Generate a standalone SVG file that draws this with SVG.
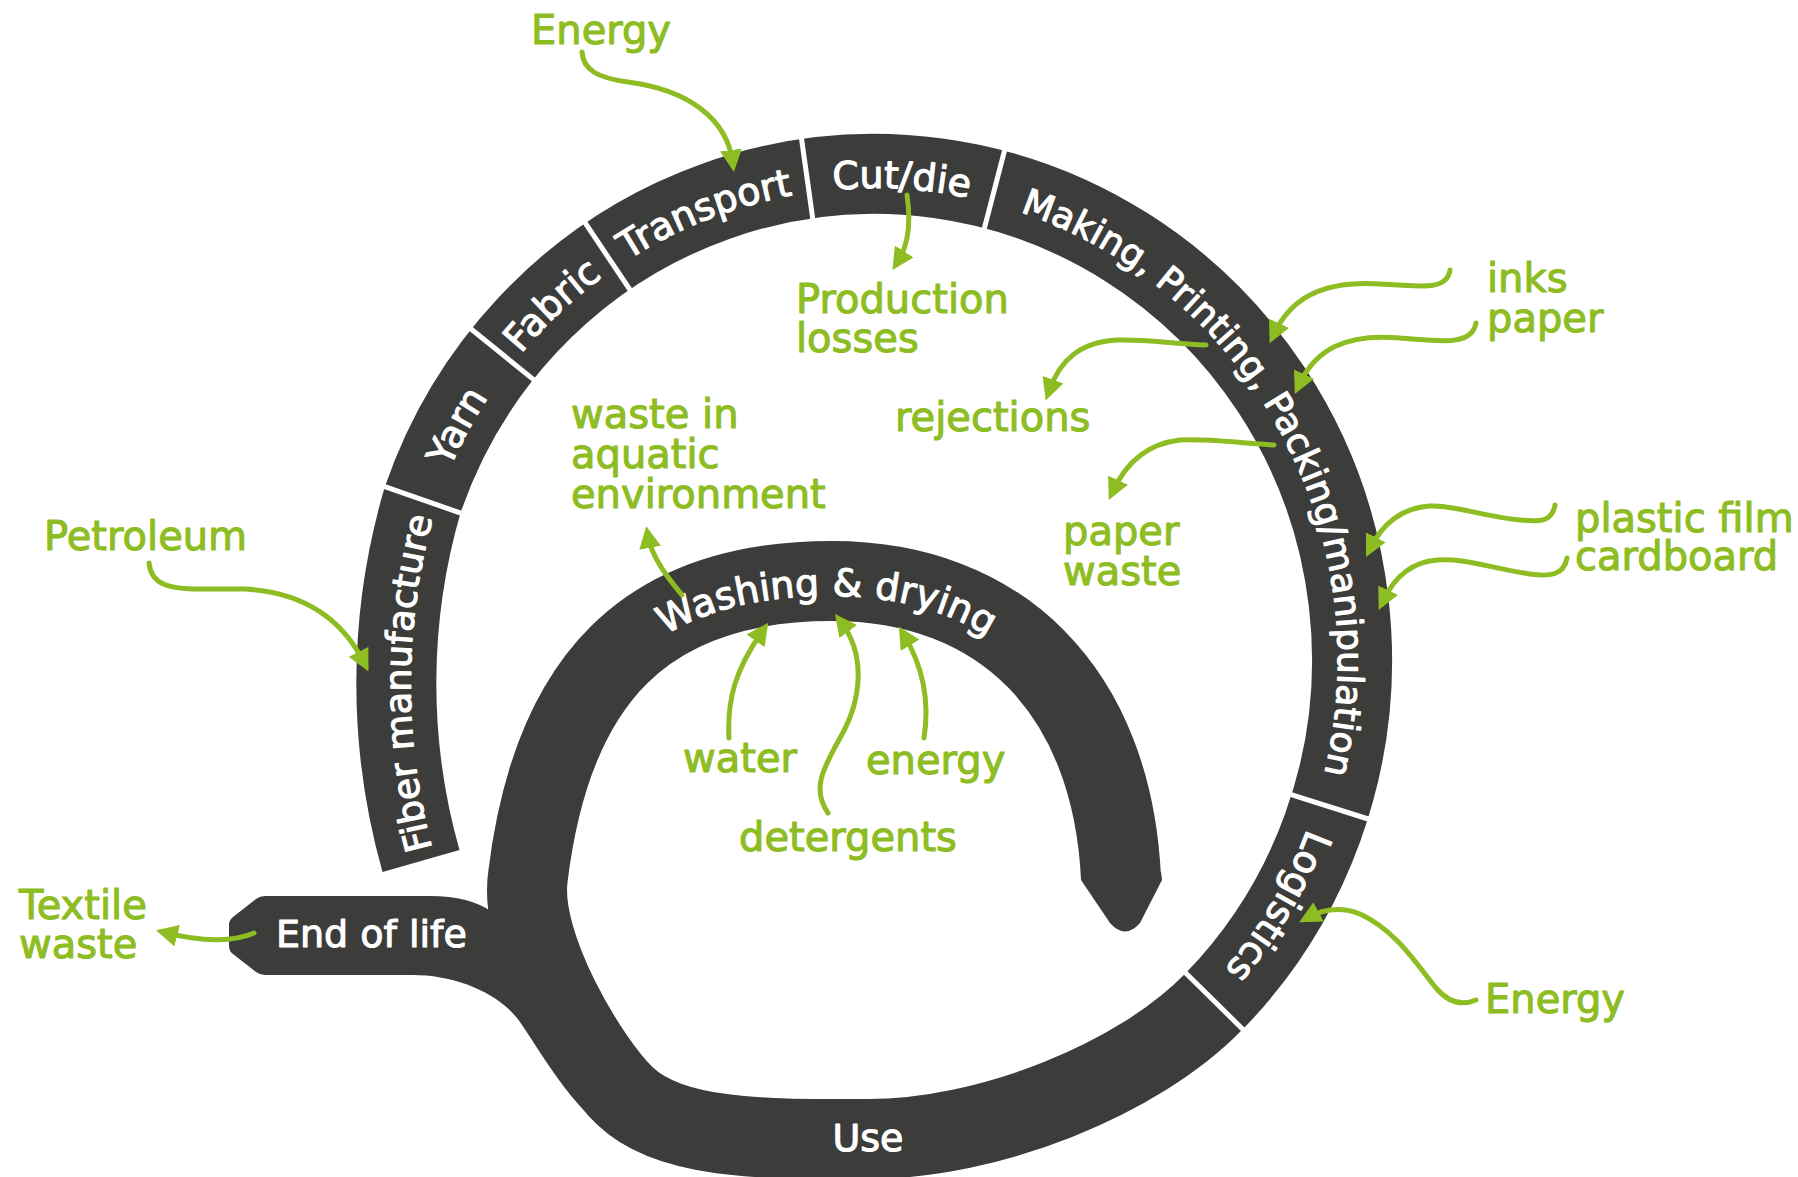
<svg xmlns="http://www.w3.org/2000/svg" width="1798" height="1177" viewBox="0 0 1798 1177">
<defs>
<style>
.band{fill:none;stroke:#3c3c3b;stroke-width:80;stroke-linecap:butt;stroke-linejoin:round}
.dark{fill:#3c3c3b}
.sep{stroke:#ffffff;stroke-width:5;stroke-linecap:butt}
.lbl{font-family:"DejaVu Sans","Liberation Sans",sans-serif;font-size:38px;fill:#ffffff;stroke:#ffffff;stroke-width:1.1px;stroke-linejoin:round}
.g{font-family:"DejaVu Sans","Liberation Sans",sans-serif;font-size:40px;fill:#8dbd23;stroke:#8dbd23;stroke-width:1.1px;stroke-linejoin:round}
.arr{fill:none;stroke:#8dbd23;stroke-width:5;stroke-linecap:round;marker-end:url(#ah)}
</style>
<marker id="ah" viewBox="0 0 22 22" refX="12" refY="11" markerWidth="22" markerHeight="22" markerUnits="userSpaceOnUse" orient="auto">
<path d="M0,0 L22,11 L0,22 Z" fill="#8dbd23"/>
</marker>
<path id="ringText" d="M874,1132 A464,472 0 1 1 874,188 A464,472 0 1 1 874,1132"/>
<path id="fiberText" d="M434,855 A638,638 0 0 1 436.5,504.6"/>
<path id="washText" d="M543,876 C567,685 650,596 832,596 C995,596 1097,695 1106,878"/>
</defs>

<g id="spiral">
<path class="band" d="M421,861 A652,652 0 0 1 422.7,499.8 A478,486 0 1 1 1214.3,1001.2 C1137.7,1080.2 988,1139 868,1139 C768,1139 671.8,1140.9 625,1096 C589,1061.5 518,945 528,876 C552,680 645,581 832,581 C1000,581 1112,690 1121,878"/>
<path class="dark" d="M1081,872 L1081,880 L1110,923 Q1125,940 1140,923 L1162,880 L1161,872 Z"/>
</g>

<g id="end-of-life">
<path class="dark" d="M265,896 L430,896 Q470,896 492,912 L528,905 L560,990 L607,1074 L580,1106 C556,1080 538,1048 520,1022 C500,993 455,975 413,975 L265,975 Q260,975 256,972 L233,954 Q229,951 229,946 L229,925 Q229,920 233,917 L256,899 Q260,896 265,896 Z"/>
<text class="lbl" x="276" y="947">End of life</text>
</g>

<g id="separators">
<line class="sep" x1="467.1" y1="515.3" x2="378.3" y2="484.3"/>
<line class="sep" x1="538.9" y1="383.9" x2="465.8" y2="324.8"/>
<line class="sep" x1="633.8" y1="295.5" x2="581.5" y2="217.4"/>
<line class="sep" x1="813.7" y1="225.3" x2="800.6" y2="132.2"/>
<line class="sep" x1="982.6" y1="235.1" x2="1006.2" y2="144.2"/>
<line class="sep" x1="1284.9" y1="792.6" x2="1374.5" y2="821"/>
<line class="sep" x1="1180.9" y1="968.2" x2="1247.8" y2="1034.2"/>
</g>

<g id="fiber-manufacture"><text class="lbl" style="font-size:36.5px"><textPath href="#fiberText" startOffset="49%" text-anchor="middle">Fiber manufacture</textPath></text></g>
<g id="yarn"><text class="lbl"><textPath href="#ringText" startOffset="972.8" text-anchor="middle">Yarn</textPath></text></g>
<g id="fabric"><text class="lbl"><textPath href="#ringText" startOffset="1123.6" text-anchor="middle">Fabric</textPath></text></g>
<g id="transport"><text class="lbl"><textPath href="#ringText" startOffset="1299.2" text-anchor="middle">Transport</textPath></text></g>
<g id="cut-die"><text class="lbl"><textPath href="#ringText" startOffset="1497.2" text-anchor="middle">Cut/die</textPath></text></g>
<g id="making"><text class="lbl" style="font-size:36px"><textPath href="#ringText" startOffset="1969.3" text-anchor="middle">Making, Printing, Packing/manipulation</textPath></text></g>
<g id="logistics"><text class="lbl"><textPath href="#ringText" startOffset="2459.4" text-anchor="middle">Logistics</textPath></text></g>
<g id="use"><text class="lbl" x="868" y="1151" text-anchor="middle">Use</text></g>
<g id="washing-drying"><text class="lbl"><textPath href="#washText" startOffset="50%" text-anchor="middle">Washing &amp; drying</textPath></text></g>

<g id="connectors">
<path class="arr" d="M582,52 C583,70 598,78 628,82 C690,90 727,120 732.6,162"/>
<path class="arr" d="M907,195 C911,222 909,244 897.8,261.6"/>
<path class="arr" d="M1450,270 C1447,290 1425,287 1380,284 C1320,280 1290,300 1273.9,334.2"/>
<path class="arr" d="M1476,323 C1472,345 1445,342 1400,338 C1345,333 1315,350 1299,385"/>
<path class="arr" d="M1206,345 C1170,344 1150,339 1117,340 C1080,342 1060,360 1049,391"/>
<path class="arr" d="M1274,445 C1235,443 1210,438 1180,440 C1145,444 1125,465 1113,491"/>
<path class="arr" d="M1555,505 C1552,522 1540,522 1520,520 C1480,516 1455,505 1430,506 C1400,508 1382,525 1370.5,548"/>
<path class="arr" d="M1567,558 C1564,575 1550,577 1530,574 C1490,568 1465,558 1437,560 C1410,562 1393,580 1383,601"/>
<path class="arr" d="M149,563 C151,585 170,589 200,589 L245,589 C300,592 340,615 364,662.5"/>
<path class="arr" d="M254,933 C236,941 205,943 165.6,932.7"/>
<path class="arr" d="M682,595 C668,578 652,558 648,536"/>
<path class="arr" d="M729,738 C727,700 735,670 762.5,631"/>
<path class="arr" d="M828,813 C812,790 822,770 840,738 C862,700 866,655 841,622"/>
<path class="arr" d="M924,738 C930,700 922,665 904,635"/>
<path class="arr" d="M1476,1000 C1462,1006 1448,1002 1436,988 C1415,962 1395,930 1360,914 C1340,906 1322,910 1308,917.5"/>
</g>

<g id="energy-top"><text class="g" x="531" y="44">Energy</text></g>
<g id="production-losses"><text class="g" x="796" y="313">Production</text><text class="g" x="796" y="352">losses</text></g>
<g id="inks-paper"><text class="g" x="1487" y="292">inks</text><text class="g" x="1487" y="332">paper</text></g>
<g id="rejections"><text class="g" x="895" y="431">rejections</text></g>
<g id="waste-aquatic"><text class="g" x="571" y="428">waste in</text><text class="g" x="571" y="468">aquatic</text><text class="g" x="571" y="508">environment</text></g>
<g id="paper-waste"><text class="g" x="1063" y="545">paper</text><text class="g" x="1063" y="585">waste</text></g>
<g id="plastic-cardboard"><text class="g" x="1575" y="532">plastic film</text><text class="g" x="1575" y="570">cardboard</text></g>
<g id="petroleum"><text class="g" x="44" y="550">Petroleum</text></g>
<g id="water"><text class="g" x="683" y="772">water</text></g>
<g id="energy-wash"><text class="g" x="866" y="774">energy</text></g>
<g id="detergents"><text class="g" x="739" y="851">detergents</text></g>
<g id="textile-waste"><text class="g" x="19" y="919">Textile</text><text class="g" x="19" y="958">waste</text></g>
<g id="energy-logistics"><text class="g" x="1485" y="1013">Energy</text></g>
</svg>
